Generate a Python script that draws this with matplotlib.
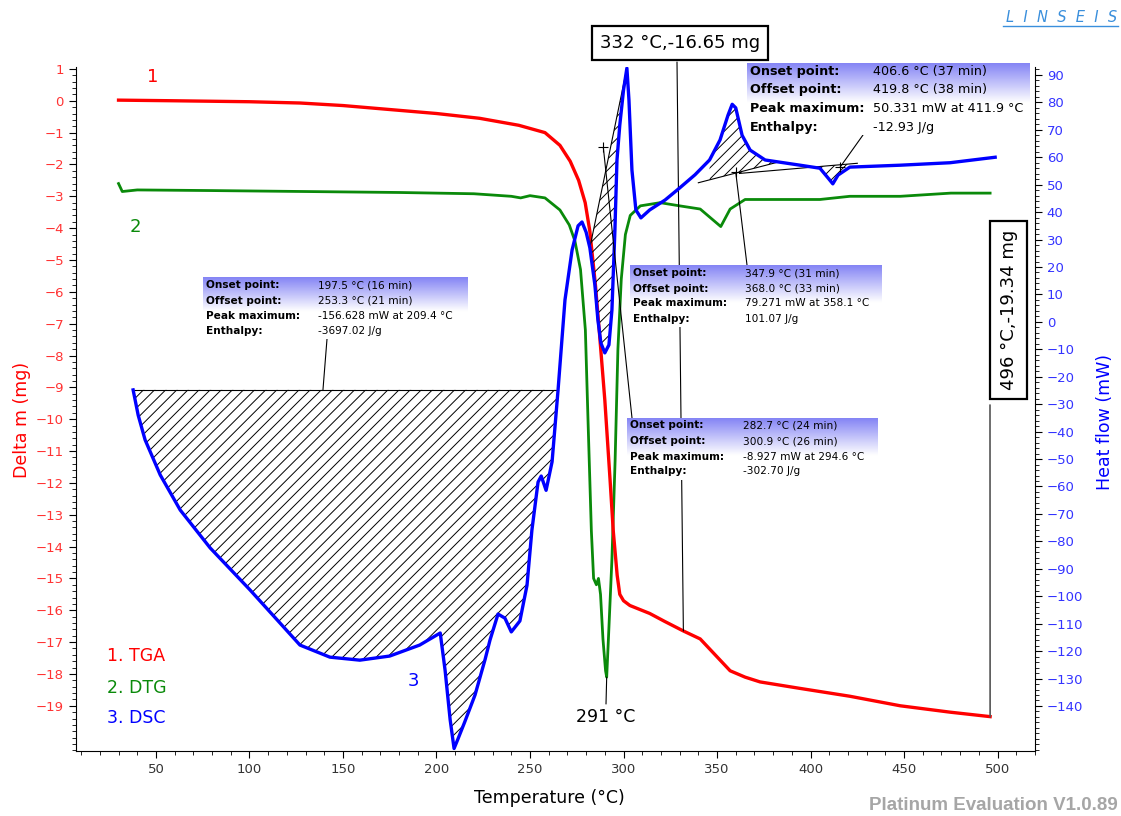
import numpy as np
import matplotlib.pyplot as plt
from matplotlib.ticker import MultipleLocator
from matplotlib.lines import Line2D

W, H = 1121, 816
plt.rcParams['font.family'] = ['DejaVu Sans']
plt.rcParams['hatch.linewidth'] = 0.7

# ============ Données ============
t_tga = [30, 60, 100, 127, 150, 180, 200, 223, 244, 258, 266, 271.5, 276, 279.5, 282, 285,
         287, 290, 292.8, 294.5, 296.6, 298, 300, 303.4, 314, 322, 332, 341, 349, 357, 365,
         373, 394, 421, 448, 474.6, 496]
m_tga = [0.02, 0.0, -0.03, -0.07, -0.15, -0.3, -0.4, -0.55, -0.77, -1.0, -1.4, -1.9, -2.5,
         -3.2, -4.1, -5.8, -7.2, -9.4, -11.9, -13.5, -14.9, -15.5, -15.7, -15.85, -16.1,
         -16.35, -16.65, -16.9, -17.4, -17.9, -18.1, -18.25, -18.45, -18.7, -19.0, -19.2, -19.34]

t_dtg = [30, 32, 40, 80, 130, 180, 220, 240, 245, 250, 258, 266, 271, 274, 277, 279.6, 281,
         282.8, 284, 285.5, 286.6, 287.7, 289, 290.4, 291, 292, 293.8, 295.5, 297, 298.8, 301,
         303.6, 309, 319.6, 330, 341, 349, 352, 357, 365, 383, 405, 421, 448, 475, 496]
m_dtg = [-2.6, -2.85, -2.8, -2.82, -2.85, -2.88, -2.92, -3.0, -3.05, -2.98, -3.05, -3.43, -3.9,
         -4.4, -5.3, -7.2, -10.0, -13.5, -15.0, -15.2, -15.0, -15.5, -16.9, -17.9, -18.1, -16.8,
         -14.4, -11.3, -7.8, -5.6, -4.2, -3.6, -3.3, -3.2, -3.3, -3.4, -3.8, -3.95, -3.4, -3.1,
         -3.1, -3.1, -3.0, -3.0, -2.9, -2.9]

t_dsc = [37.8, 40.5, 44.2, 52.3, 63, 79, 100.3, 127, 143, 159, 175, 191, 202, 204.6, 207.3,
         209.4, 211.5, 215, 220.6, 226, 228.6, 232.9, 236.6, 240, 244.6, 248.4, 251, 254.3, 256,
         258.6, 261.8, 265, 268.7, 272.5, 275.7, 277.8, 280, 282, 284.7, 286.3, 287.9, 290,
         292.2, 293.8, 295.4, 296.5, 298, 300, 301.8, 302.9, 304.5, 306.6, 309.3, 314, 322.2,
         330, 338.2, 346, 351.6, 355.9, 358.1, 360, 363.4, 367.7, 375.7, 394.4, 405, 409.4,
         411.9, 414.7, 421, 448, 474.6, 498.7]
q_dsc = [-24.8, -34, -43, -55.8, -68.6, -82.4, -97.7, -117.8, -122.2, -123.3, -121.8, -117.8,
         -113.4, -127, -145, -155.5, -152, -146, -136, -123, -116, -106.5, -108, -113, -109, -96,
         -76, -58.4, -56.2, -61.4, -51, -24.8, 8, 26.2, 35, 36.4, 32.7, 27, 13.4, 0.7, -7.7,
         -11.3, -8.4, 4.3, 33.5, 59, 71.7, 84.5, 92.5, 80.9, 55.3, 40.8, 37.9, 40.8, 44.4,
         48.8, 53.6, 59, 66.3, 75.4, 79.3, 78, 68, 62.6, 59, 57.1, 56, 52.4, 50.3, 53.5, 56.4,
         57.1, 58, 60]

# lignes de base des pics (T, mW)
base1 = [(37.8, -24.8), (265, -24.8)]
base2 = [(282, 27.0), (301.8, 92.5)]
base3 = [(340, 50.7), (383, 58.3)]
base4 = [(362, 54.1), (425, 57.8)]

rows_a = [("Onset point:", "197.5 \u00b0C (16 min)"), ("Offset point:", "253.3 \u00b0C (21 min)"),
          ("Peak maximum:", "-156.628 mW at 209.4 \u00b0C"), ("Enthalpy:", "-3697.02 J/g")]
rows_b = [("Onset point:", "347.9 \u00b0C (31 min)"), ("Offset point:", "368.0 \u00b0C (33 min)"),
          ("Peak maximum:", "79.271 mW at 358.1 \u00b0C"), ("Enthalpy:", "101.07 J/g")]
rows_c = [("Onset point:", "282.7 \u00b0C (24 min)"), ("Offset point:", "300.9 \u00b0C (26 min)"),
          ("Peak maximum:", "-8.927 mW at 294.6 \u00b0C"), ("Enthalpy:", "-302.70 J/g")]
rows_d = [("Onset point:", "406.6 \u00b0C (37 min)"), ("Offset point:", "419.8 \u00b0C (38 min)"),
          ("Peak maximum:", "50.331 mW at 411.9 \u00b0C"), ("Enthalpy:", "-12.93 J/g")]

RED, GREEN, BLUE = '#ff0000', '#0a8a0a', '#0000ff'

def fx(px):
    return px / W

def fy(py):
    return 1 - py / H

# ============ Figure ============
fig = plt.figure(figsize=(W / 100, H / 100), dpi=100)
ax = fig.add_axes([fx(75.7), fy(750.7), (1035 - 75.7) / W, (750.7 - 66.7) / H])
ax2 = ax.twinx()

ax.set_xlim(7.1, 520)
ax.set_ylim(-20.41, 1.07)
ax2.set_ylim(-156.3, 93.0)

ax.plot(t_tga, m_tga, color=RED, lw=2.4, zorder=3)
ax.plot(t_dtg, m_dtg, color=GREEN, lw=2.0, zorder=2)
ax2.plot(t_dsc, q_dsc, color=BLUE, lw=2.4, zorder=3)

T = np.array(t_dsc)
Q = np.array(q_dsc)

def hatch_region(base, lo, hi):
    (x0, y0), (x1, y1) = base
    xs = np.array([lo] + [t for t in t_dsc if lo < t < hi] + [hi])
    ys = np.interp(xs, T, Q)
    bl = y0 + (xs - x0) * (y1 - y0) / (x1 - x0)
    ax2.fill_between(xs, ys, bl, facecolor='none', edgecolor='k', hatch='///', lw=0, zorder=1)
    ax2.plot([x0, x1], [y0, y1], color='k', lw=0.8, zorder=2)

hatch_region(base1, 37.8, 265)
hatch_region(base2, 282, 301.8)
hatch_region(base3, 346, 380)
hatch_region(base4, 403, 422)

for (tx, qy) in [(289.2, 63.6), (360, 54.5), (415.8, 56.4)]:
    ax2.plot(tx, qy, marker='+', color='k', ms=7, mew=0.8, zorder=4)

# axes et graduations
ax.spines['top'].set_visible(False)
ax2.spines['top'].set_visible(False)
ax.spines['right'].set_visible(False)
ax2.spines['left'].set_visible(False)
ax2.spines['bottom'].set_visible(False)

ax.set_yticks(range(-19, 2))
ax.yaxis.set_minor_locator(MultipleLocator(0.2))
ax2.set_yticks(range(-140, 91, 10))
ax2.yaxis.set_minor_locator(MultipleLocator(2))
ax.set_xticks(range(50, 501, 50))
ax.xaxis.set_minor_locator(MultipleLocator(10))

ax.tick_params(axis='y', which='major', length=5, labelsize=9.5, labelcolor='#ff3333')
ax.tick_params(axis='y', which='minor', length=3)
ax2.tick_params(axis='y', which='major', length=5, labelsize=9.5, labelcolor='#3333ff')
ax2.tick_params(axis='y', which='minor', length=3)
ax.tick_params(axis='x', which='major', length=5, labelsize=9.5, labelcolor='#333333')
ax.tick_params(axis='x', which='minor', length=3)

fig.text(fx(22), fy(420), "Delta m (mg)", rotation=90, color=RED, size=12.5, ha='center', va='center')
fig.text(fx(1105), fy(422), "Heat flow (mW)", rotation=90, color=BLUE, size=12.5, ha='center', va='center')
fig.text(fx(549), fy(798), "Temperature (\u00b0C)", color='k', size=12.5, ha='center', va='center')

# légende et numéros de courbes
fig.text(fx(107), fy(656), "1. TGA", color=RED, size=12.5, va='center')
fig.text(fx(107), fy(688), "2. DTG", color=GREEN, size=12.5, va='center')
fig.text(fx(107), fy(718), "3. DSC", color=BLUE, size=12.5, va='center')
fig.text(fx(153), fy(77), "1", color=RED, size=13, ha='center', va='center')
fig.text(fx(135), fy(227), "2", color=GREEN, size=13, ha='center', va='center')
fig.text(fx(413), fy(681), "3", color=BLUE, size=13, ha='center', va='center')

# boîtes d'information avec dégradé
def info_box(x0, y0, w, h, rows, xv, ys, size, fade):
    bax = fig.add_axes([fx(x0), fy(y0 + h), w / W, h / H], zorder=5)
    k = np.clip(np.linspace(0, 1, 100) / fade, 0, 1)[:, None]
    top = np.array([0.52, 0.52, 0.96])
    col = top + (1 - top) * k
    img = np.repeat(col[:, None, :], 2, axis=1)
    bax.imshow(img, aspect='auto', extent=[0, 1, 0, 1], origin='upper')
    bax.axis('off')
    for (lab, val), yy in zip(rows, ys):
        fig.text(fx(x0 + 3), fy(yy), lab, weight='bold', size=size, va='center', zorder=6)
        fig.text(fx(xv), fy(yy), val, size=size, va='center', zorder=6)

info_box(203, 277, 265, 62, rows_a, 318, [285, 300.5, 316, 331.5], 7.6, 0.55)
info_box(630, 265, 252, 62, rows_b, 745, [273.5, 288.5, 303.5, 318.5], 7.6, 0.6)
info_box(627, 418, 251, 62, rows_c, 743, [425.5, 441, 456.5, 471.5], 7.6, 0.6)
info_box(747, 63, 283, 72, rows_d, 873, [72, 90, 108.5, 127], 9.2, 0.55)

# lignes de rappel
line_kw = dict(arrowstyle='-', color='k', lw=0.8, shrinkA=0, shrinkB=0)
ax2.annotate('', xy=(139.3, -24.8), xytext=(327, H - 339), textcoords='figure pixels',
             arrowprops=line_kw, annotation_clip=False)
ax2.annotate('', xy=(360, 54.5), xytext=(747, H - 265), textcoords='figure pixels',
             arrowprops=line_kw, annotation_clip=False)
ax2.annotate('', xy=(289.2, 63.6), xytext=(632, H - 418), textcoords='figure pixels',
             arrowprops=line_kw, annotation_clip=False)
ax2.annotate('', xy=(415.8, 56.4), xytext=(863, H - 135), textcoords='figure pixels',
             arrowprops=line_kw, annotation_clip=False)
ax.annotate('', xy=(332, -16.65), xytext=(677, H - 62), textcoords='figure pixels',
            arrowprops=line_kw, annotation_clip=False)
ax.annotate('', xy=(496, -19.34), xytext=(990, H - 405), textcoords='figure pixels',
            arrowprops=dict(arrowstyle='-', color='#555555', lw=1.2, shrinkA=0, shrinkB=0),
            annotation_clip=False)
ax.annotate('', xy=(291, -18.1), xytext=(606, H - 704), textcoords='figure pixels',
            arrowprops=line_kw, annotation_clip=False)

box_kw = dict(boxstyle='square,pad=0.45', fc='white', ec='k', lw=1.6)
fig.text(fx(680), fy(43), "332 \u00b0C,-16.65 mg", size=13, ha='center', va='center',
         bbox=box_kw, zorder=7)
fig.text(fx(1008.5), fy(310), "496 \u00b0C,-19.34 mg", size=13, rotation=90, ha='center',
         va='center', bbox=dict(boxstyle='square,pad=0.5', fc='white', ec='k', lw=1.6), zorder=7)
fig.text(fx(606), fy(717), "291 \u00b0C", size=12.5, ha='center', va='center')

# logo et version
fig.text(fx(1062), fy(17), "L  I  N  S  E  I  S", color='#3a8fdc', size=10.5, style='italic',
         ha='center', va='center')
fig.add_artist(Line2D([fx(1003), fx(1118)], [fy(26), fy(26)], color='#3a8fdc', lw=1))
fig.text(fx(1118), fy(806), "Platinum Evaluation V1.0.89", color='#a6a6a6', size=13.5,
         weight='bold', family=['Liberation Sans', 'DejaVu Sans'], ha='right', va='center')

fig.savefig('out.png', dpi=100)
